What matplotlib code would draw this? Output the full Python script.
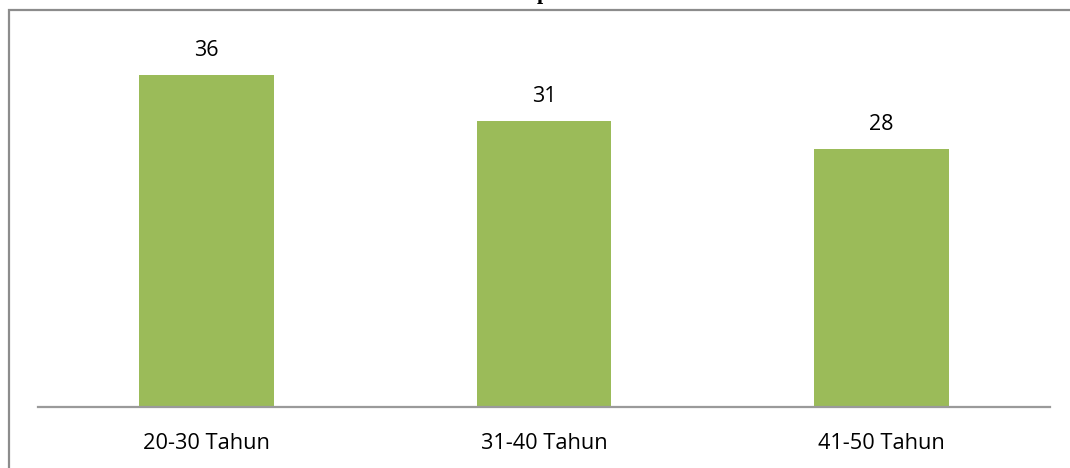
import matplotlib.pyplot as plt
from matplotlib.patches import Rectangle

# data
categories = ['20-30 Tahun', '31-40 Tahun', '41-50 Tahun']
values = [36, 31, 28]

plt.rcParams['font.family'] = ['Open Sans', 'DejaVu Sans']

W, H = 1070, 468
fig = plt.figure(figsize=(W / 100, H / 100), dpi=100)

# chart area frame, cut at the right and bottom edges
fig.patches.append(Rectangle((8.5 / W, -0.1), 1.2, 1 - 9.5 / H + 0.1,
                             transform=fig.transFigure, fill=False,
                             edgecolor='#8c8c8c', linewidth=1.6))

# title, mostly above the visible area
fig.text(543 / W, 1 + 1.5 / H, 'p', family='Liberation Serif', fontweight='bold',
         fontsize=16, ha='center', va='baseline')

# axes: baseline at y=407, x from 38 to 1050
ax = fig.add_axes([38 / W, 1 - 407 / H, (1050 - 38) / W, 370 / H])
x = range(len(categories))
bars = ax.bar(x, values, width=0.4, color='#9BBB59')
ax.set_xlim(-0.5, len(categories) - 0.5)
ax.set_ylim(0, 370 / 9.22)

for rect, v in zip(bars, values):
    ax.annotate(str(v), (rect.get_x() + rect.get_width() / 2, v),
                xytext=(0, 17.5), textcoords='offset points',
                ha='center', va='center', fontsize=15.5, color='black')

for s in ['top', 'right', 'left']:
    ax.spines[s].set_visible(False)
ax.spines['bottom'].set_color('#9a9a9a')
ax.spines['bottom'].set_linewidth(1.6)
ax.set_yticks([])
ax.set_xticks(list(x))
ax.set_xticklabels(categories, fontsize=15.7)
ax.tick_params(axis='x', length=0, pad=19)

fig.savefig('out.png', dpi=100)
